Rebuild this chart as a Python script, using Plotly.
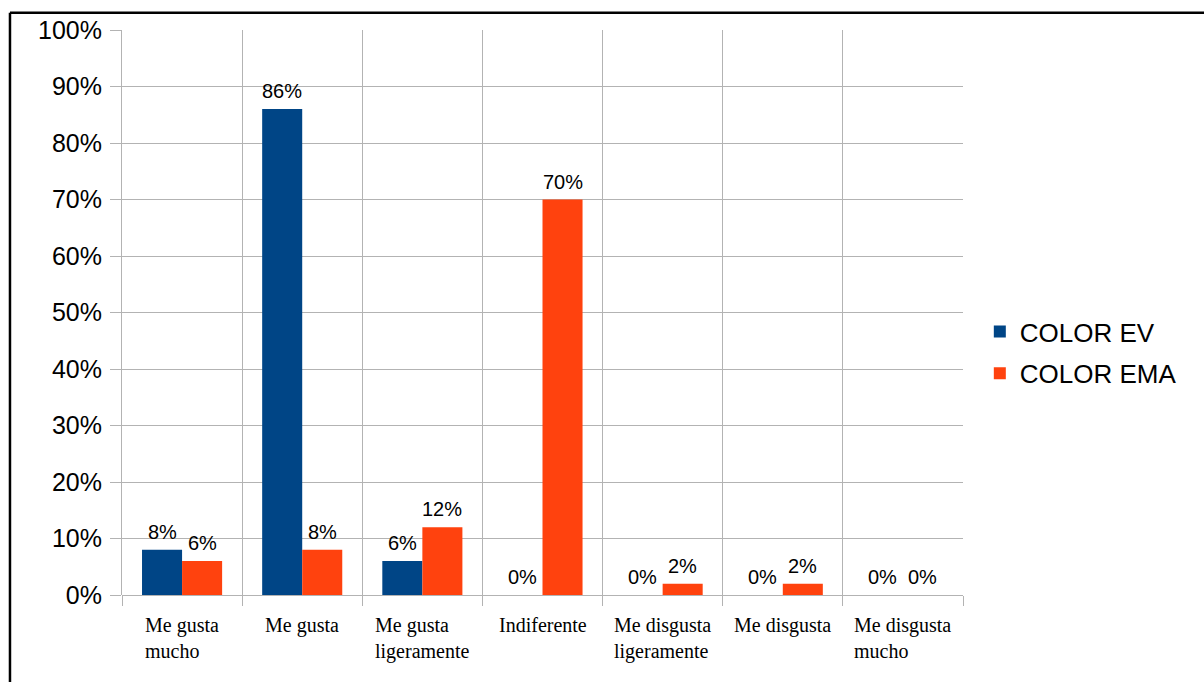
import plotly.graph_objects as go

categories = ["Me gusta<br>mucho", "Me gusta", "Me gusta<br>ligeramente", "Indiferente",
              "Me disgusta<br>ligeramente", "Me disgusta", "Me disgusta<br>mucho"]
color_ev = [0.08, 0.86, 0.06, 0.00, 0.00, 0.00, 0.00]
color_ema = [0.06, 0.08, 0.12, 0.70, 0.02, 0.02, 0.00]
series_names = ["COLOR EV", "COLOR EMA"]
series_colors = ["#004586", "#ff420e"]

fig = go.Figure()
annotations = []
for i, (name, vals, col) in enumerate(zip(series_names, [color_ev, color_ema], series_colors)):
    fig.add_trace(go.Bar(
        x=categories, y=vals, name=name, marker_color=col, marker_line_width=0,
        legendgroup=f"g{i}",
    ))
    # data labels centred on each bar of the group (bar width = 40 px)
    for c, v in zip(categories, vals):
        annotations.append(dict(x=c, y=v, xref="x", yref="y", text=f"{v*100:.0f}%",
                                showarrow=False, xanchor="center", yanchor="bottom",
                                xshift=-20 if i == 0 else 20, yshift=5,
                                font=dict(family="Liberation Sans", size=20, color="#000")))

# invisible trace to activate the boundary-grid axis
fig.add_trace(go.Scatter(x=[0], y=[0], xaxis="x2", mode="markers",
                         marker=dict(opacity=0), showlegend=False, hoverinfo="skip"))

annotations += [dict(x=c, y=0, xref="x", yref="y", text=c, showarrow=False,
                     xanchor="center", yanchor="top", align="left", yshift=-17,
                     font=dict(family="Liberation Serif", size=20, color="#000"))
                for c in categories]

fig.update_layout(
    width=1204, height=682,
    margin=dict(l=122, r=241, t=30, b=87),
    paper_bgcolor="white", plot_bgcolor="white",
    barmode="group", bargap=1/3, bargroupgap=0,
    font=dict(family="Liberation Sans", color="#000"),
    legend=dict(x=1.02, y=0.429, xanchor="left", yanchor="middle",
                font=dict(size=26), itemwidth=30, tracegroupgap=5,
                traceorder="grouped"),
    xaxis=dict(type="category", showgrid=False, ticks="", showticklabels=False,
               showline=False, zeroline=False),
    xaxis2=dict(overlaying="x", range=[-0.5, 6.5], tickvals=[i - 0.5 for i in range(8)],
                showticklabels=False, showgrid=True, gridcolor="#b3b3b3", gridwidth=1,
                ticks="outside", ticklen=10, tickcolor="#b3b3b3", side="bottom",
                showline=False, zeroline=False, layer="below traces"),
    yaxis=dict(range=[0, 1], dtick=0.1, tickformat=".0%", showgrid=True,
               gridcolor="#b3b3b3", ticks="outside", ticklen=11, tickcolor="#b3b3b3",
               tickfont=dict(size=25), showline=True, linecolor="#b3b3b3", linewidth=1,
               zeroline=True, zerolinecolor="#b3b3b3", zerolinewidth=1,
               ticklabelstandoff=3),
    annotations=annotations,
    shapes=[dict(type="line", xref="paper", yref="paper",
                 x0=-0.1332, x1=1.5, y0=1.0305, y1=1.0305,
                 line=dict(color="#000", width=2.5)),
            dict(type="line", xref="paper", yref="paper",
                 x0=-0.1332, x1=-0.1332, y0=1.0305, y1=-0.3,
                 line=dict(color="#000", width=2.5))],
)

fig.write_html("out.html")
